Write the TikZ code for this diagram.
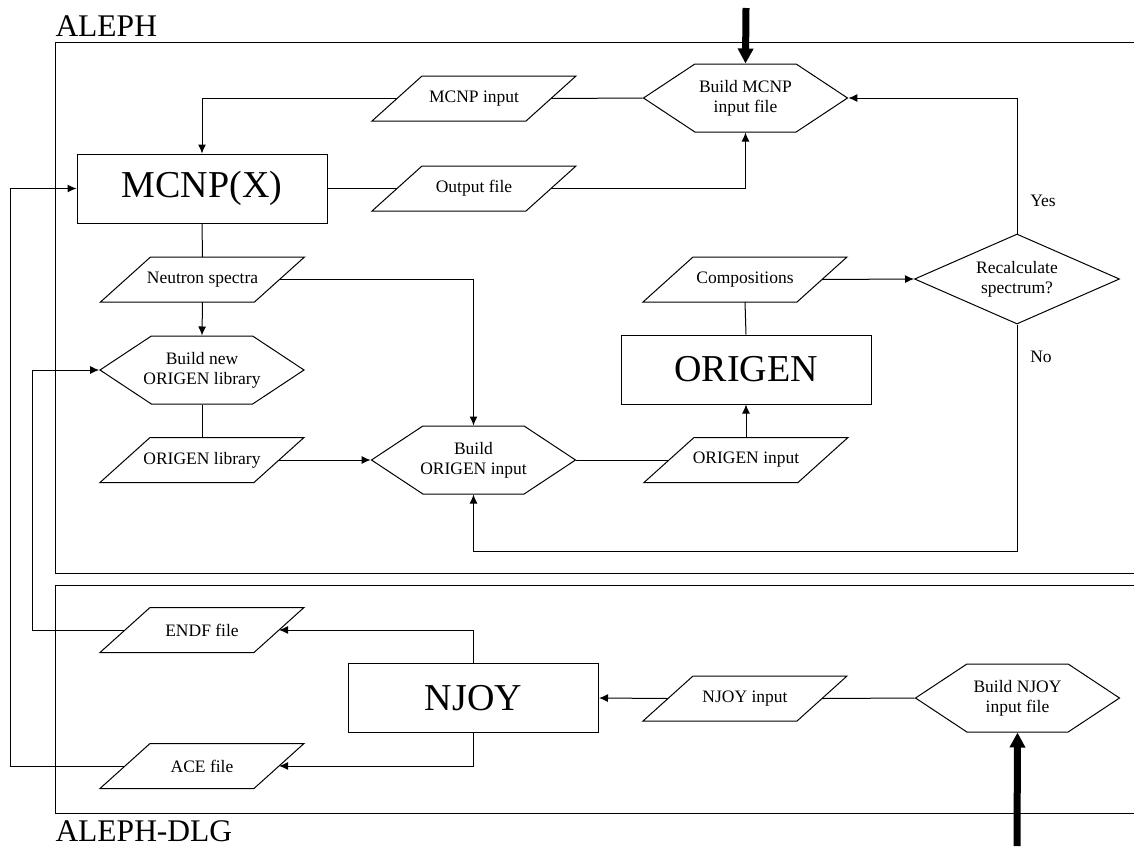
\documentclass[tikz,border=0pt]{standalone}
\usepackage{fontspec}
\setmainfont{Liberation Serif}
\usepackage{xcolor}
\usepackage{tikz}
\usetikzlibrary{arrows.meta,positioning,calc,shapes.geometric,shapes.symbols}

\begin{document}
\begin{tikzpicture}[
  x=1pt, y=-1pt,
  line width=1pt,
  every node/.style={font=\fontsize{17.5}{20}\selectfont, align=center},
  prog/.style={draw, minimum width=250, minimum height=69,
               font=\fontsize{38}{40}\selectfont},
  data/.style={minimum width=154, minimum height=45, inner sep=0pt, outer sep=0pt,
               append after command={\pgfextra{
                 \draw ([xshift=-25pt]\tikzlastnode.south west)
                   -- ([xshift=-25pt]\tikzlastnode.south east)
                   -- ([xshift=25pt]\tikzlastnode.north east)
                   -- ([xshift=25pt]\tikzlastnode.north west) -- cycle;}}},
  build/.style={draw, signal, signal to=east and west,
                signal pointer angle=67, minimum width=204, minimum height=68,
                inner ysep=0pt, inner xsep=-10pt},
  decide/.style={draw, diamond, aspect=2.28, inner sep=0pt,
                 minimum width=205, minimum height=90},
  stage/.style={inner sep=0pt, anchor=base west, font=\fontsize{31.5}{34}\selectfont},
  flow/.style={draw, -{Latex[length=9pt,width=8pt]}},
  bigflow/.style={draw, line width=7pt, -{Triangle[length=15pt,width=15pt]}},
]
\useasboundingbox (0,0) rectangle (1134,846);
\clip (0,0) rectangle (1134,846);

% stages
\draw (55,42) rectangle (1160,573);
\draw (55,585) rectangle (1160,813);
\node[stage] (aleph) at (55,36) {ALEPH};
\node[stage] (alephdlg) at (55,841) {ALEPH-DLG};

% ALEPH
\node[build] (bmcnp) at (745.5,98) {Build MCNP\\input file};
\node[data] (mcnpin) at (474,98.5) {MCNP input};
\node[prog] (mcnpx) at (202,188.5) {MCNP(X)};
\node[data] (outfile) at (474,188.5) {Output file};
\node[data] (nspec) at (202.5,279.5) {Neutron spectra};
\node[build] (bnewlib) at (202,370) {Build new\\ORIGEN library};
\node[data] (origlib) at (202,460) {ORIGEN library};
\node[build] (borig) at (473.5,460) {Build\\ORIGEN input};
\node[data] (origin) at (746,460) {ORIGEN input};
\node[prog] (origen) at (746,369.5) {ORIGEN};
\node[data] (comp) at (745,279.5) {Compositions};
\node[decide] (recalc) at (1017,279) {Recalculate\\spectrum?};
\node (yes) at (1043,201) {Yes};
\node (no) at (1041,357) {No};

% ALEPH-DLG
\node[prog] (njoy) at (473.5,698) {NJOY};
\node[data] (njin) at (745,698.5) {NJOY input};
\node[build] (bnjoy) at (1017.5,698) {Build NJOY\\input file};
\node[data] (endf) at (202,630) {ENDF file};
\node[data] (ace) at (202,766) {ACE file};

% connectors
\coordinate (topin) at (746,8);
\coordinate (botin) at (1017,846);
\draw[bigflow] (topin) -- (bmcnp.north);
\draw[bigflow] (botin) -- (bnjoy.south);
\draw (bmcnp.west) -- (mcnpin.east);
\draw[flow] (mcnpin.west) -| (mcnpx.north);
\draw (mcnpx.east) -- (outfile.west);
\draw[flow] (outfile.east) -| (bmcnp.south);
\draw (mcnpx.south) -- (nspec.north);
\draw[flow] (nspec.south) -- (bnewlib.north);
\draw[flow] (nspec.east) -| (borig.north);
\draw (bnewlib.south) -- (origlib.north);
\draw[flow] (origlib.east) -- (borig.west);
\draw (borig.east) -- (origin.west);
\draw[flow] (origin.north) -- (origen.south);
\draw (origen.north) -- (comp.south);
\draw[flow] (comp.east) -- (recalc.west);
\draw[flow] (recalc.north) |- (bmcnp.east);
\draw[flow] (recalc.south) -- ++(0,227) -| (borig.south);
\draw (bnjoy.west) -- (njin.east);
\draw[flow] (njin.west) -- (njoy.east);
\draw[flow] (njoy.north) |- (endf.east);
\draw[flow] (njoy.south) |- (ace.east);
\draw[flow] (endf.west) -- ++(-93,0) |- (bnewlib.west);
\draw[flow] (ace.west) -- ++(-115,0) |- (mcnpx.west);
\end{tikzpicture}
\end{document}
